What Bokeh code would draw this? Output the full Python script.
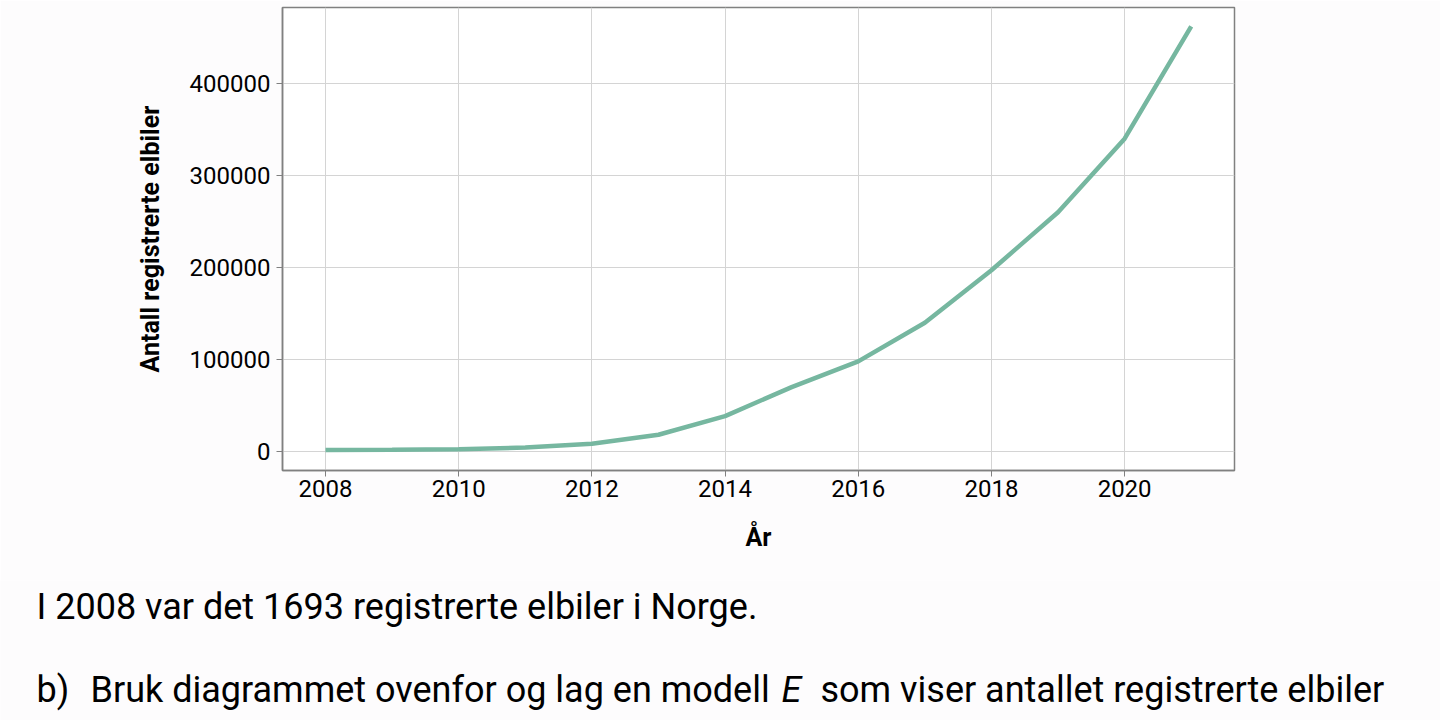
from bokeh.plotting import figure
from bokeh.layouts import column
from bokeh.embed import file_html
from bokeh.resources import INLINE
from bokeh.models import Range1d, FixedTicker, BasicTickFormatter
from bokeh.core.properties import value

years = [2008, 2009, 2010, 2011, 2012, 2013, 2014, 2015, 2016, 2017, 2018, 2019, 2020, 2021]
elbiler = [1693, 1900, 2400, 4300, 8400, 18200, 38500, 70000, 98000, 140000, 197000, 260000, 340000, 462000]
x_ticks = [2008, 2010, 2012, 2014, 2016, 2018, 2020]
y_ticks = [0, 100000, 200000, 300000, 400000]
x_title = "År"
y_title = "Antall registrerte elbiler"
text_lines = ["I 2008 var det 1693 registrerte elbiler i Norge.",
              "b)",
              "Bruk diagrammet ovenfor og lag en modell",
              "E",
              "som viser antallet registrerte elbiler"]
text_x = [36, 36, 90, 781, 820]
text_y = [26, 109, 109, 109, 109]
text_style = ["normal", "normal", "normal", "italic", "normal"]

FONT = "Roboto"
BG = "#fdfcfd"

p = figure(width=1440, height=580, output_backend="svg", toolbar_location=None,
           x_range=Range1d(2007.354, 2021.65), y_range=Range1d(-20650, 482600),
           min_border_left=282, min_border_right=206, min_border_top=7, min_border_bottom=110)
p.border_fill_color = BG
p.background_fill_color = "white"
p.outline_line_color = "#808080"
p.outline_line_width = 1.5

p.line(years, elbiler, line_color="#76b7a0", line_width=4.5)

p.xaxis.ticker = FixedTicker(ticks=x_ticks)
p.yaxis.ticker = FixedTicker(ticks=y_ticks)
p.yaxis.formatter = BasicTickFormatter(use_scientific=False)
p.xaxis.minor_tick_line_color = None
p.yaxis.minor_tick_line_color = None
for ax in (p.xaxis[0], p.yaxis[0]):
    ax.axis_line_color = "#808080"
    ax.axis_line_width = 1.5
    ax.major_tick_line_color = "#808080"
    ax.major_tick_out = 6
    ax.major_tick_in = 0
    ax.major_label_text_font = FONT
    ax.major_label_text_font_size = "24px"
    ax.major_label_text_color = "black"
    ax.axis_label_text_font = FONT
    ax.axis_label_text_font_size = "25px"
    ax.axis_label_text_font_style = "bold"
    ax.axis_label_text_color = "black"
p.xaxis.axis_label = x_title
p.yaxis.axis_label = y_title
p.xaxis.major_label_standoff = 3
p.yaxis.major_label_standoff = 6
p.xaxis.axis_label_standoff = 23
p.yaxis.axis_label_standoff = 22
p.xgrid.grid_line_color = "#d4d4d4"
p.ygrid.grid_line_color = "#d4d4d4"
p.xgrid.ticker = FixedTicker(ticks=x_ticks)
p.ygrid.ticker = FixedTicker(ticks=y_ticks)

t = figure(width=1440, height=140, output_backend="svg", toolbar_location=None,
           x_range=Range1d(0, 1440), y_range=Range1d(140, 0),
           min_border_left=0, min_border_right=0, min_border_top=0, min_border_bottom=0)
t.axis.visible = False
t.grid.visible = False
t.outline_line_color = None
t.border_fill_color = BG
t.background_fill_color = BG
t.text(x=text_x, y=text_y, text=text_lines, text_font=value(FONT), text_font_size="36px",
       text_color="black", text_baseline="alphabetic", text_font_style=text_style)

try:
    p.frame_align = False
    t.frame_align = False
except Exception:
    pass

layout = column(p, t, spacing=0)
open("out.html", "w").write(file_html(layout, INLINE))
